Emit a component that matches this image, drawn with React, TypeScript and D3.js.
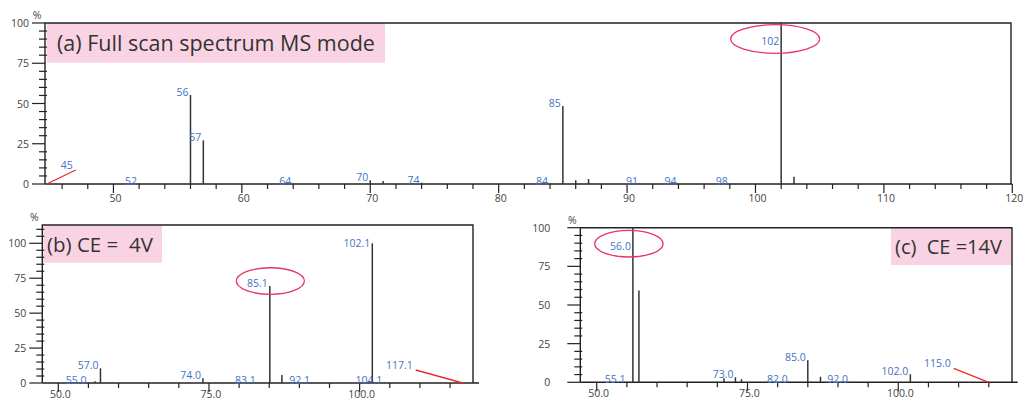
import React from 'react';
import * as d3 from 'd3';

// (a) full scan spectrum, MS mode
const fullMz = [44.8, 52, 56, 57, 64, 70, 71, 74, 84, 85, 86, 87, 91, 94, 98, 102, 103];
const fullInt = [0, 0.3, 55.3, 27.1, 0.3, 2.3, 1.9, 0.8, 0.3, 48.4, 2.3, 3.1, 0.3, 0.3, 0.3, 100, 4.5];
const fullLabels = [44.8, 52, 56, 57, 64, 70, 74, 84, 85, 91, 94, 98, 102];
const fullXTicks = [50, 60, 70, 80, 90, 100, 110, 120];

// (b) product ions, CE = 4V
const ce4Mz = [55.0, 56.1, 57.0, 74.0, 83.1, 85.1, 87.1, 92.1, 102.1, 104.1, 117.1];
const ce4Int = [0.3, 1.2, 10.5, 3.4, 0.3, 69.4, 5.7, 0.3, 100, 0.3, 0];
const ce4Labels = [55.0, 57.0, 74.0, 83.1, 85.1, 92.1, 102.1, 104.1, 117.1];

// (c) product ions, CE = 14V
const ce14Mz = [55.1, 56.0, 57.0, 71.1, 73.0, 74.0, 82.0, 85.0, 87.1, 92.0, 102.0, 115.0];
const ce14Int = [0.3, 100, 59.3, 2.6, 3.2, 2.0, 0.3, 14.2, 3.6, 0.3, 5.2, 0];
const ce14Labels = [55.1, 56.0, 73.0, 82.0, 85.0, 92.0, 102.0, 115.0];

const msXTicks = [50, 75, 100];
const yTicks = [0, 25, 50, 75, 100];

const FONT = '"Open Sans", "DejaVu Sans", sans-serif';
const BLUE = '#4472c4';
const INK = '#222';

type PanelProps = {
  mz: number[];
  inten: number[];
  labels: number[];
  fmt: string;
  xDomain: [number, number];
  xRange: [number, number];
  boxRight: number;
  yMax: number;
  top: number;
  bottom: number;
  xTicks: number[];
  xMinorStep: number;
  xLabelGap: number;
  yMinorMax: number;
  yLabelGap: number;
  title: string;
  titleBox: [number, number, number, number];
  titleSize: number;
  titleX: number;
  ringMz: number;
  ring: [number, number, number];
  leaderMz: number;
  leader: [number, number];
};

function Panel(p: PanelProps) {
  const x = d3.scaleLinear().domain(p.xDomain).range(p.xRange);
  const y = d3.scaleLinear().domain([0, p.yMax]).range([p.bottom, p.top]);
  const left = p.xRange[0];
  const fmt = d3.format(p.fmt);
  const intOf = (m: number) => {
    const i = p.mz.indexOf(m);
    return i < 0 ? 0 : p.inten[i];
  };
  const minorX = d3.range(Math.ceil(p.xDomain[0] / p.xMinorStep) * p.xMinorStep, p.xDomain[1] + 1e-6, p.xMinorStep)
    .filter(v => !p.xTicks.includes(v));
  const minorY = d3.range(0, p.yMinorMax + 1e-6, 5).filter(v => !yTicks.includes(v));
  const labelY = (m: number) => Math.max(y(intOf(m)), p.top + 21) + 1;

  return (
    <g fontFamily={FONT}>
      <rect x={p.titleBox[0]} y={p.titleBox[1]} width={p.titleBox[2] - p.titleBox[0]}
        height={p.titleBox[3] - p.titleBox[1]} fill="#f9d3e3" />
      <text x={p.titleX} y={p.titleBox[3] - (p.titleBox[3] - p.titleBox[1] - p.titleSize * 0.72) / 2}
        fontSize={p.titleSize} fill="#333" style={{ whiteSpace: 'pre' }}>{p.title}</text>

      {/* plot frame */}
      <polyline points={`${left},${y(0)} ${left},${p.top} ${p.boxRight},${p.top} ${p.boxRight},${y(0)}`}
        fill="none" stroke={INK} strokeWidth={1.4} />
      <line x1={left} x2={p.xRange[1]} y1={y(0)} y2={y(0)} stroke={INK} strokeWidth={1.6} />

      {/* y axis */}
      {yTicks.map(v => (
        <g key={'yt' + v}>
          <line x1={left - 13} x2={left} y1={y(v)} y2={y(v)} stroke={INK} strokeWidth={1.2} />
          <text x={left - p.yLabelGap} y={y(v) + 4} fontSize={10.5} fill="#444" textAnchor="end">{v}</text>
        </g>
      ))}
      {minorY.map(v => (
        <line key={'ym' + v} x1={left - 6} x2={left + 2} y1={y(v)} y2={y(v)} stroke={INK} strokeWidth={1.2} />
      ))}
      <text x={left - 8} y={p.top - 4} fontSize={10.5} fill="#444" textAnchor="middle">%</text>

      {/* x axis */}
      {p.xTicks.map(v => (
        <g key={'xt' + v}>
          <line x1={x(v)} x2={x(v)} y1={y(0)} y2={y(0) + 9} stroke={INK} strokeWidth={1.2} />
          <text x={x(v) + 2} y={y(0) + p.xLabelGap} fontSize={10.5} fill="#444" textAnchor="middle">
            {p.fmt === '.0f' ? v : d3.format('.1f')(v)}
          </text>
        </g>
      ))}
      {minorX.map(v => (
        <line key={'xm' + v} x1={x(v)} x2={x(v)} y1={y(0)} y2={y(0) + 5} stroke={INK} strokeWidth={1.2} />
      ))}

      {/* peaks */}
      {p.mz.map((m, i) => (
        <line key={'pk' + i} x1={x(m)} x2={x(m)} y1={y(0)} y2={y(p.inten[i])} stroke="#333" strokeWidth={1.5} />
      ))}

      {/* peak labels */}
      {p.labels.filter(m => m !== p.leaderMz).map(m => (
        <text key={'lb' + m} x={x(m) - 2} y={labelY(m)} fontSize={10.5} fill={BLUE} textAnchor="end">{fmt(m)}</text>
      ))}

      {/* leader line for the edge peak */}
      <line x1={x(p.leaderMz)} y1={y(0)} x2={x(p.leaderMz) + p.leader[0]} y2={y(0) + p.leader[1]}
        stroke="#f0282d" strokeWidth={1.3} />
      <text x={x(p.leaderMz) + p.leader[0] - 3} y={y(0) + p.leader[1] - 1} fontSize={10.5} fill={BLUE}
        textAnchor="end">{fmt(p.leaderMz)}</text>

      {/* highlighted peak */}
      <ellipse cx={x(p.ringMz) + p.ring[0]} cy={labelY(p.ringMz) - 6} rx={p.ring[1]} ry={p.ring[2]}
        fill="none" stroke="#e8336a" strokeWidth={1.3} />
    </g>
  );
}

export default function App() {
  return (
    <svg width={1023} height={399} style={{ position: 'absolute', left: 0, top: 0, background: '#fff' }}>
      <Panel mz={fullMz} inten={fullInt} labels={fullLabels} fmt=".0f"
        xDomain={[44.67, 120]} xRange={[45, 1012.3]} boxRight={1011} yMax={100} top={23} bottom={184}
        xTicks={fullXTicks} xMinorStep={2} xLabelGap={18} yMinorMax={100} yLabelGap={16}
        title="(a) Full scan spectrum MS mode" titleBox={[46.7, 23, 385, 62.7]} titleSize={21.5} titleX={57}
        ringMz={102} ring={[-6, 44.5, 14.3]} leaderMz={44.8} leader={[29, -14]} />
      <Panel mz={ce4Mz} inten={ce4Int} labels={ce4Labels} fmt=".1f"
        xDomain={[47.35, 119.8]} xRange={[42.3, 479]} boxRight={473} yMax={113.1} top={225} bottom={383}
        xTicks={msXTicks} xMinorStep={5} xLabelGap={14.5} yMinorMax={110} yLabelGap={16}
        title="(b) CE =  4V" titleBox={[43.3, 226, 162, 262.7]} titleSize={20.5} titleX={47}
        ringMz={85.1} ring={[0.5, 34, 13.3]} leaderMz={117.1} leader={[-47, -13]} />
      <Panel mz={ce14Mz} inten={ce14Int} labels={ce14Labels} fmt=".1f"
        xDomain={[47.28, 119.8]} xRange={[580.3, 1017.7]} boxRight={1012} yMax={100} top={227.7} bottom={382.3}
        xTicks={msXTicks} xMinorStep={5} xLabelGap={15} yMinorMax={100} yLabelGap={30}
        title="(c)  CE =14V" titleBox={[891, 227.7, 1011.7, 265]} titleSize={20} titleX={895}
        ringMz={56.0} ring={[-4, 34.2, 13.3]} leaderMz={115.0} leader={[-35, -14]} />
    </svg>
  );
}
